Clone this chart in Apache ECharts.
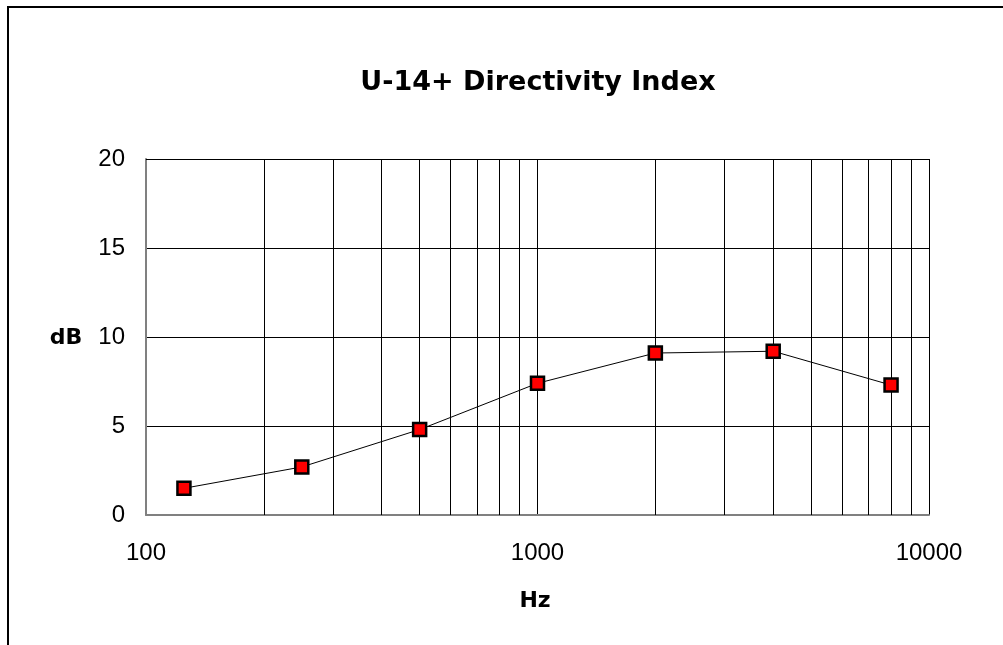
<!DOCTYPE html>
<html><head><meta charset="utf-8">
<script src="https://cdn.jsdelivr.net/npm/echarts@6/dist/echarts.min.js"></script>
<style>html,body{margin:0;padding:0;background:#fff}#c{width:1003px;height:645px}</style>
</head><body><div id="c"></div>
<script>
const freqHz = [125, 250, 500, 1000, 2000, 4000, 8000];
const dbValues = [1.5, 2.7, 4.8, 7.4, 9.1, 9.2, 7.3];
const minorGridHz = [200,300,400,500,600,700,800,900,2000,3000,4000,5000,6000,7000,8000,9000];
const titleText = 'U-14+ Directivity Index';
const xName = 'Hz', yName = 'dB';

const chart = echarts.init(document.getElementById('c'), null, {renderer:'canvas'});
const font = 'Liberation Sans, Arial, sans-serif';
const boldFont = 'DejaVu Sans, sans-serif';
chart.setOption({
  animation:false,
  backgroundColor:'#fff',
  grid:{left:146,right:74,top:159,bottom:130,containLabel:false},
  graphic:[
    {type:'rect',shape:{x:8,y:7,width:1100,height:800},style:{fill:null,stroke:'#000',lineWidth:2},silent:true,z:-1},
    {type:'text',x:538,y:83,style:{text:titleText,font:'bold 27px '+boldFont,fill:'#000',align:'center',verticalAlign:'middle'}},
    {type:'text',x:66,y:338,style:{text:yName,font:'bold 22px '+boldFont,fill:'#000',align:'center',verticalAlign:'middle'}},
    {type:'text',x:535,y:601,style:{text:xName,font:'bold 22px '+boldFont,fill:'#000',align:'center',verticalAlign:'middle'}}
  ],
  xAxis:{type:'log',logBase:10,min:100,max:10000,
    axisLine:{show:true,lineStyle:{color:'#808080',width:2}},
    axisTick:{show:false},
    axisLabel:{fontFamily:font,fontSize:24,color:'#000',margin:26,formatter:v=>String(Math.round(v))},
    splitLine:{show:true,lineStyle:{color:'#000',width:1}}},
  yAxis:{type:'value',min:0,max:20,interval:5,
    axisLine:{show:true,lineStyle:{color:'#808080',width:2}},
    axisTick:{show:false},
    axisLabel:{fontFamily:font,fontSize:24,color:'#000',margin:21},
    splitLine:{show:true,lineStyle:{color:'#000',width:1}}},
  series:[{
    type:'line',
    data:freqHz.map((f,i)=>[f,dbValues[i]]),
    symbol:'rect',symbolSize:13,
    itemStyle:{color:'#ff0000',borderColor:'#000',borderWidth:2.5},
    lineStyle:{color:'#000',width:1},
    z:5,
    markLine:{silent:true,symbol:'none',label:{show:false},
      lineStyle:{color:'#000',width:1,type:'solid'},
      data:minorGridHz.map(v=>({xAxis:v}))},
  },{
    type:'line',data:[],markLine:{silent:true,symbol:'none',label:{show:false},
      lineStyle:{color:'#000',width:1,type:'solid'},data:[{yAxis:20}]}
  }]
});
</script></body></html>
